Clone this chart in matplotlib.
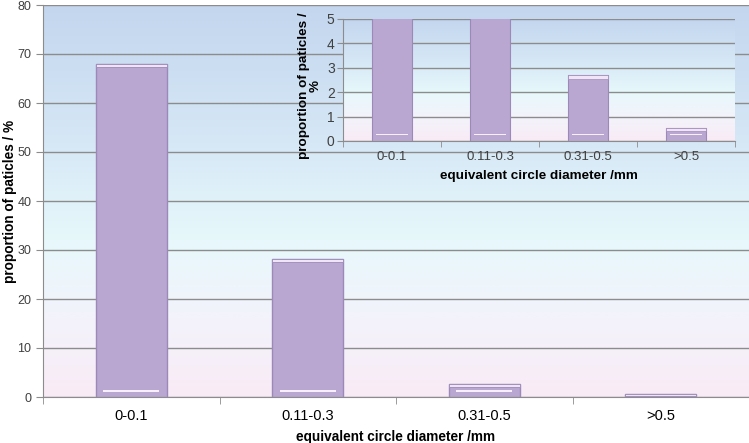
import matplotlib as mpl
import matplotlib.pyplot as plt
import numpy as np
from matplotlib.colors import LinearSegmentedColormap

plt.rcParams['font.family'] = ['Liberation Sans', 'DejaVu Sans']

categories = ['0-0.1', '0.11-0.3', '0.31-0.5', '>0.5']
values = [68.0, 28.2, 2.7, 0.55]
xlabel = 'equivalent circle diameter /mm'
ylabel = 'proportion of paticles / %'
inset_ylabel = 'proportion of paticles /\n%'

bar_face = '#b9a6d1'
bar_edge = '#9c89b8'
cap_face = '#f1e4f7'
grid_col = '#8c8c8c'
tick_col = '#404040'

# background gradient (bottom -> top)
bg = LinearSegmentedColormap.from_list(
    'bg', [(0.0, '#f9ebf6'), (0.2, '#f3f3fb'), (0.4, '#e7f8fb'),
           (0.65, '#d6e8f6'), (1.0, '#c3d6ee')])


def gradient(ax):
    grad = np.linspace(0, 1, 256).reshape(-1, 1)
    ax.imshow(grad, cmap=bg, aspect='auto', origin='lower',
              extent=[0, 1, 0, 1], transform=ax.transAxes, zorder=0)


def bevel_bars(ax, vals, top, height_px, lw):
    x = np.arange(len(vals))
    ax.bar(x, vals, width=0.4, color=bar_face, edgecolor=bar_edge,
           linewidth=lw, zorder=3)
    # light top cap and bottom highlight, a few pixels each
    px = top / height_px
    for xi, v in zip(x, vals):
        if v <= top:
            h = min(3.5 * px, v * 0.5)
            ax.bar(xi, h, bottom=v - h, width=0.4, color=cap_face,
                   edgecolor=bar_edge, linewidth=lw * 0.6, zorder=4)
        if v > 10 * px:
            ax.bar(xi, 1.5 * px, bottom=5.5 * px, width=0.32,
                   color='#f7eff9', linewidth=0, zorder=4)
    return x


fig = plt.figure(figsize=(7.49, 4.43), dpi=100)
ax = fig.add_axes([43 / 749, 1 - 397 / 443, 706 / 749, 392 / 443])
gradient(ax)
x = bevel_bars(ax, values, 80, 392, 1.0)
ax.set_xlim(-0.5, len(categories) - 0.5)
ax.set_ylim(0, 80)
ax.set_yticks(range(0, 81, 10))
ax.yaxis.grid(True, color=grid_col, linewidth=1.0, zorder=1)
ax.set_axisbelow(True)
ax.set_xticks(x)
ax.set_xticklabels(categories)
ax.set_xticks(np.arange(-0.5, len(categories)), minor=True)
ax.tick_params(axis='x', which='major', length=0, labelsize=10.5,
               labelcolor='black', pad=9)
ax.tick_params(axis='x', which='minor', length=5, color=grid_col)
ax.tick_params(axis='y', length=5, color=grid_col, labelsize=9,
               labelcolor=tick_col)
for s in ['top', 'right']:
    ax.spines[s].set_visible(False)
for s in ['left', 'bottom']:
    ax.spines[s].set_color(grid_col)
ax.set_xlabel(xlabel, fontsize=9.8, fontweight='bold', labelpad=5)
ax.set_ylabel(ylabel, fontsize=9.8, fontweight='bold')
ax.yaxis.set_label_coords(-0.037, 0.5)

# inset: same data, zoomed to 0-5 %
ins = fig.add_axes([343 / 749, 1 - 141 / 443, 392 / 749, 122 / 443])
gradient(ins)
xi = bevel_bars(ins, values, 5, 122, 0.8)
ins.set_xlim(-0.5, len(categories) - 0.5)
ins.set_ylim(0, 5)
ins.set_yticks(range(0, 6))
ins.yaxis.grid(True, color=grid_col, linewidth=1.0, zorder=1)
ins.set_axisbelow(True)
ins.set_xticks(xi)
ins.set_xticklabels(categories)
ins.set_xticks(np.arange(-0.5, len(categories)), minor=True)
ins.tick_params(axis='x', which='major', length=0, labelsize=9.5,
                labelcolor=tick_col, pad=7)
ins.tick_params(axis='x', which='minor', length=4, color=grid_col)
ins.tick_params(axis='y', length=4, color=grid_col, labelsize=10,
                labelcolor=tick_col, pad=2)
for s in ['top', 'right']:
    ins.spines[s].set_visible(False)
for s in ['left', 'bottom']:
    ins.spines[s].set_color(grid_col)
ins.set_xlabel(xlabel, fontsize=9.7, fontweight='bold', labelpad=5)
ins.set_ylabel(inset_ylabel, fontsize=9.7, fontweight='bold',
               linespacing=0.95)
ins.yaxis.set_label_coords(-0.055, 0.45)

fig.savefig('out.png', dpi=100)
